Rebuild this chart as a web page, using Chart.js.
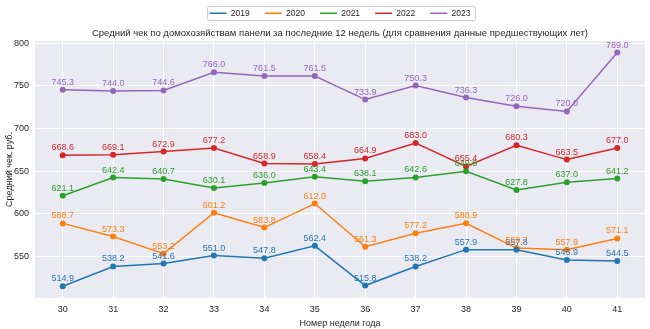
<!DOCTYPE html>
<html>
<head>
<meta charset="utf-8">
<script src="https://cdn.jsdelivr.net/npm/chart.js@4"></script>
<style>
  html, body { margin: 0; padding: 0; background: #fff; }
  #wrap { width: 650px; height: 329px; }
</style>
</head>
<body>
<div id="wrap"><canvas id="avgCheck" width="650" height="329"></canvas></div>
<script>
// weeks and yearly series
const weeks = [30, 31, 32, 33, 34, 35, 36, 37, 38, 39, 40, 41];
const y2019 = [514.9, 538.2, 541.6, 551.0, 547.8, 562.4, 515.8, 538.2, 557.9, 557.8, 545.9, 544.5];
const y2020 = [588.7, 573.3, 553.2, 601.2, 583.8, 612.0, 561.3, 577.2, 588.9, 559.7, 557.9, 571.1];
const y2021 = [621.1, 642.4, 640.7, 630.1, 636.0, 643.4, 638.1, 642.6, 649.9, 627.8, 637.0, 641.2];
const y2022 = [668.6, 669.1, 672.9, 677.2, 658.9, 658.4, 664.9, 683.0, 655.4, 680.3, 663.5, 677.0];
const y2023 = [745.3, 744.0, 744.6, 766.0, 761.5, 761.5, 733.9, 750.3, 736.3, 726.0, 720.0, 789.0];
const yTicks = [550, 600, 650, 700, 750, 800];

const FONT = "'Liberation Sans', Arial, sans-serif";
const TEXT = '#262626';

function makeSet(label, values, color) {
    return {
        label: label,
        data: values.map((v, i) => ({ x: weeks[i], y: v })),
        borderColor: color,
        backgroundColor: color,
        borderWidth: 1.5,
        pointRadius: 3,
        pointHoverRadius: 3,
        pointBorderWidth: 0,
        tension: 0
    };
}

// grey plot background + legend frame
const decor = {
    id: 'decor',
    beforeDraw(chart) {
        const a = chart.chartArea, ctx = chart.ctx;
        ctx.save();
        ctx.fillStyle = '#eaeaf2';
        ctx.fillRect(a.left, a.top, a.right - a.left, a.bottom - a.top);
        ctx.restore();
    },
    afterDraw(chart) {
        const lg = chart.legend;
        if (!lg || !lg.legendHitBoxes.length) return;
        const boxes = lg.legendHitBoxes;
        const x0 = boxes[0].left - 3;
        const last = boxes[boxes.length - 1];
        const x1 = last.left + last.width + 4;
        const y0 = boxes[0].top - 3;
        const y1 = boxes[0].top + boxes[0].height + 2;
        const ctx = chart.ctx;
        ctx.save();
        ctx.strokeStyle = '#cccccc';
        ctx.lineWidth = 1;
        ctx.beginPath();
        ctx.roundRect(Math.round(x0) + 0.5, Math.round(y0) + 0.5, Math.round(x1 - x0), Math.round(y1 - y0), 2);
        ctx.stroke();
        ctx.restore();
    }
};

// value labels above each point
const pointLabels = {
    id: 'pointLabels',
    afterDatasetsDraw(chart) {
        const ctx = chart.ctx;
        ctx.save();
        ctx.font = '9px ' + FONT;
        ctx.textAlign = 'center';
        ctx.textBaseline = 'bottom';
        chart.data.datasets.forEach((ds, di) => {
            const meta = chart.getDatasetMeta(di);
            ctx.fillStyle = ds.borderColor;
            meta.data.forEach((pt, i) => {
                ctx.fillText(ds.data[i].y.toFixed(1), pt.x, pt.y - 3);
            });
        });
        ctx.restore();
    }
};

const ctx = document.getElementById('avgCheck').getContext('2d');
const avgChart = new Chart(ctx, {
    type: 'line',
    data: {
        datasets: [
            makeSet('2019', y2019, '#1f77b4'),
            makeSet('2020', y2020, '#ff7f0e'),
            makeSet('2021', y2021, '#2ca02c'),
            makeSet('2022', y2022, '#d62728'),
            makeSet('2023', y2023, '#9467bd')
        ]
    },
    options: {
        responsive: false,
        animation: false,
        layout: { padding: { left: 0, right: 5, top: -6, bottom: 0 } },
        plugins: {
            legend: {
                position: 'top',
                weight: 3000,
                fullSize: false,
                labels: {
                    usePointStyle: true,
                    pointStyle: 'line',
                    pointStyleWidth: 17,
                    boxWidth: 17,
                    boxHeight: 9,
                    padding: 15,
                    color: TEXT,
                    font: { family: FONT, size: 8.5 },
                    generateLabels(chart) {
                        const items = Chart.defaults.plugins.legend.labels.generateLabels(chart);
                        items.forEach((it, i) => {
                            it.lineWidth = 1.5;
                            it.strokeStyle = chart.data.datasets[i].borderColor;
                        });
                        return items;
                    }
                }
            },
            title: {
                display: true,
                fullSize: false,
                text: 'Средний чек по домохозяйствам панели за последние 12 недель (для сравнения данные предшествующих лет)',
                color: TEXT,
                font: { family: FONT, size: 9.5, weight: 'normal' },
                padding: { top: 0, bottom: 2 }
            },
            tooltip: { enabled: false }
        },
        scales: {
            x: {
                type: 'linear',
                min: 29.45,
                max: 41.55,
                afterBuildTicks: s => { s.ticks = weeks.map(w => ({ value: w })); },
                afterFit: s => { s.height = 31; },
                grid: { color: '#ffffff', lineWidth: 1, drawTicks: false },
                border: { display: false },
                ticks: { color: TEXT, font: { family: FONT, size: 9 }, padding: 6 },
                title: {
                    display: true,
                    text: 'Номер недели года',
                    color: TEXT,
                    font: { family: FONT, size: 9 },
                    padding: { top: 0, bottom: 0 }
                }
            },
            y: {
                min: 501.2,
                max: 802.7,
                afterBuildTicks: s => { s.ticks = yTicks.map(v => ({ value: v })); },
                afterFit: s => { s.width = 35; },
                grid: { color: '#ffffff', lineWidth: 1, drawTicks: false },
                border: { display: false },
                ticks: { color: TEXT, font: { family: FONT, size: 9 }, padding: 6 },
                title: {
                    display: true,
                    text: 'Средний чек, руб.',
                    color: TEXT,
                    font: { family: FONT, size: 9 },
                    padding: { top: 4, bottom: 0 }
                }
            }
        }
    },
    plugins: [decor, pointLabels]
});
</script>
</body>
</html>
